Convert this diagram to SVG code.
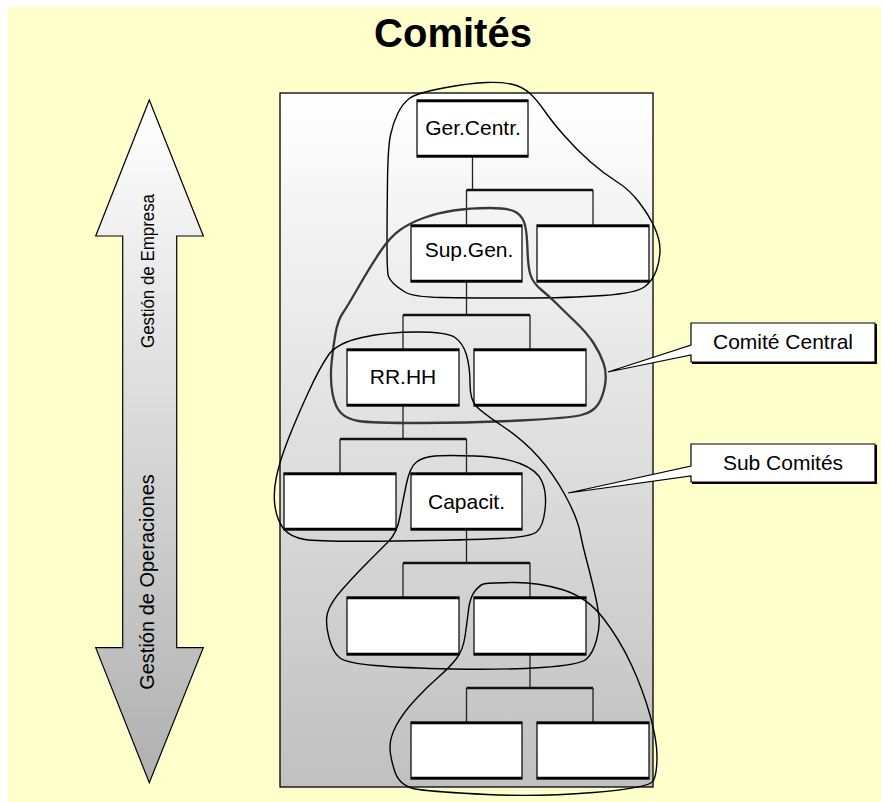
<svg xmlns="http://www.w3.org/2000/svg" width="881" height="802" viewBox="0 0 881 802">
<style>
.t{font-family:"Liberation Sans",Arial,sans-serif;fill:#000}
.box{fill:#fff;stroke:#111;stroke-width:1.3}
.edge{stroke:#000;stroke-width:2.6;fill:none}
.ln{stroke:#222;stroke-width:1.3;fill:none}
.bus{stroke:#111;stroke-width:2.6;fill:none}
.loop{fill:none;stroke:#000;stroke-width:1.4}
</style>
<defs>
<linearGradient id="pg" x1="0" y1="0" x2="0" y2="1">
<stop offset="0" stop-color="#ffffff"/>
<stop offset="1" stop-color="#c0c0c0"/>
</linearGradient>
<linearGradient id="ag" x1="0" y1="0" x2="0" y2="1">
<stop offset="0" stop-color="#ffffff"/>
<stop offset="1" stop-color="#b0b0b0"/>
</linearGradient>
</defs>
<rect x="0" y="0" width="881" height="802" fill="#fff"/>
<rect x="8" y="7" width="873" height="795" fill="#ffffcc"/>
<text class="t" x="453" y="47" font-size="40" font-weight="bold" text-anchor="middle">Comités</text>

<g id="arrow">
<path d="M149.3,100 L203.3,236 L176.7,236 L176.7,647.7 L203.3,647.7 L149.3,782.7 L95.7,647.7 L122.7,647.7 L122.7,236 L95.7,236 Z" fill="url(#ag)" stroke="#000" stroke-width="1.2"/>
<text class="t" x="154" y="271" font-size="18" text-anchor="middle" textLength="154" lengthAdjust="spacingAndGlyphs" transform="rotate(-90 154 271)">Gestión de Empresa</text>
<text class="t" x="154" y="582" font-size="20" text-anchor="middle" transform="rotate(-90 154 582)">Gestión de Operaciones</text>
</g>

<rect id="panel" x="280" y="93" width="373" height="694" fill="url(#pg)" stroke="#000" stroke-width="1.3"/>

<g id="connectors">
<path class="ln" d="M472.5,157 V190 M466.5,190 V225 M593,190 V225"/>
<path class="bus" d="M466.5,190 H593"/>
<path class="ln" d="M466.5,282 V315 M403,315 V349 M530,315 V349"/>
<path class="bus" d="M403,315 H530"/>
<path class="ln" d="M403,406 V439 M340,439 V473 M466.5,439 V473"/>
<path class="bus" d="M340,439 H466.5"/>
<path class="ln" d="M466.5,530 V563 M403,563 V597 M530,563 V597"/>
<path class="bus" d="M403,563 H530"/>
<path class="ln" d="M530,655 V688 M466.5,688 V722 M593,688 V722"/>
<path class="bus" d="M466.5,688 H593"/>
</g>

<g id="n-gercentr"><rect class="box" x="417" y="100" width="111" height="57"/><path class="edge" d="M417,101 H528 M417,156 H528"/><text class="t" x="473" y="135" font-size="21" text-anchor="middle">Ger.Centr.</text></g>
<g id="n-supgen"><rect class="box" x="411" y="225" width="111" height="57"/><path class="edge" d="M411,226 H522 M411,281 H522"/><text class="t" x="469" y="257" font-size="21" text-anchor="middle">Sup.Gen.</text></g>
<g id="n-r1"><rect class="box" x="537" y="225" width="112" height="57"/><path class="edge" d="M537,226 H649 M537,281 H649"/></g>
<g id="n-rrhh"><rect class="box" x="347" y="349" width="112" height="57"/><path class="edge" d="M347,350 H459 M347,405 H459"/><text class="t" x="403" y="384" font-size="21" text-anchor="middle">RR.HH</text></g>
<g id="n-r2"><rect class="box" x="474" y="349" width="112" height="57"/><path class="edge" d="M474,350 H586 M474,405 H586"/></g>
<g id="n-l3"><rect class="box" x="284" y="473" width="112" height="57"/><path class="edge" d="M284,474 H396 M284,529 H396"/></g>
<g id="n-capacit"><rect class="box" x="411" y="473" width="111" height="57"/><path class="edge" d="M411,474 H522 M411,529 H522"/><text class="t" x="466.5" y="508.5" font-size="21" text-anchor="middle">Capacit.</text></g>
<g id="n-b4l"><rect class="box" x="347" y="597" width="112" height="58"/><path class="edge" d="M347,598 H459 M347,654 H459"/></g>
<g id="n-b4r"><rect class="box" x="474" y="597" width="112" height="58"/><path class="edge" d="M474,598 H586 M474,654 H586"/></g>
<g id="n-b5l"><rect class="box" x="411" y="722" width="111" height="57"/><path class="edge" d="M411,723 H522 M411,778 H522"/></g>
<g id="n-b5r"><rect class="box" x="537" y="722" width="112" height="57"/><path class="edge" d="M537,723 H649 M537,778 H649"/></g>

<g id="loops">
<path class="loop" d="M410,98 Q417,93 443.5,88 Q470,83 486.5,82.5 Q503,82 513,84.5 Q523,87 530,93.5 Q537,100 545,111.5 Q553,123 565,136.5 Q577,150 590,161.5 Q603,173 616.5,181.5 Q630,190 640,203.5 Q650,217 655,228.5 Q660,240 660,250 Q660,260 656.5,270 Q653,280 645,286.5 Q637,293 603.5,295.5 Q570,298 520,298 Q470,298 441.5,297.5 Q413,297 405,292 Q397,287 393.5,283.5 Q390,280 388.5,276.5 Q387,273 387,243 Q387,213 387.5,180 Q388,147 390.5,135 Q393,123 398,113 Q403,103 410,98 Z"/>
<path fill="none" stroke="#383838" stroke-width="2.3" d="M342.5,313.5 Q347,307 358.5,287 Q370,267 380,252 Q390,237 400,230 Q410,223 423.5,218 Q437,213 453.5,210.5 Q470,208 490,208 Q510,208 516.5,212.5 Q523,217 525,225 Q527,233 527.5,250 Q528,267 530.5,275 Q533,283 541.5,290 Q550,297 556.5,303.5 Q563,310 575,321.5 Q587,333 593.5,343 Q600,353 603.5,363 Q607,373 605,385 Q603,397 598,404.5 Q593,412 581.5,415 Q570,418 520,420.5 Q470,423 420,423 Q370,423 358.5,421 Q347,419 341,413 Q335,407 332.5,393.5 Q330,380 331.5,363.5 Q333,347 335.5,333.5 Q338,320 342.5,313.5 Z"/>
<path class="loop" d="M362,337.5 Q387,332 417,332 Q447,332 455,337.5 Q463,343 466.5,355 Q470,367 470,383.5 Q470,400 476.5,406.5 Q483,413 503,426.5 Q523,440 538,456.5 Q553,473 565,495 Q577,517 580,532 Q583,547 586.5,560 Q590,573 594,590 Q598,607 599,617 Q600,627 596.5,640 Q593,653 586.5,659 Q580,665 541.5,667.5 Q503,670 453,669 Q403,668 375,665.5 Q347,663 340,658 Q333,653 329,638 Q325,623 327.5,613 Q330,603 343.5,588 Q357,573 368.5,561.5 Q380,550 388.5,541.5 Q397,533 400,516.5 Q403,500 406.5,483.5 Q410,467 416.5,462 Q423,457 435,456 Q447,455 475,456 Q503,457 520,463.5 Q537,470 542,481.5 Q547,493 545,510 Q543,527 536.5,532 Q530,537 500,538.5 Q470,540 395,541 Q320,542 305,539.5 Q290,537 283.5,528.5 Q277,520 275,506.5 Q273,493 276.5,476.5 Q280,460 288.5,438.5 Q297,417 308.5,392 Q320,367 328.5,355 Q337,343 362,337.5 Z"/>
<path class="loop" d="M483.5,584 Q487,583 512,582.5 Q537,582 562,589.5 Q587,597 603.5,618.5 Q620,640 631.5,665 Q643,690 650,715 Q657,740 657,756.5 Q657,773 653.5,780.5 Q650,788 593.5,792.5 Q537,797 487,794.5 Q437,792 418.5,789.5 Q400,787 395,772 Q390,757 390,747 Q390,737 396.5,725 Q403,713 415,700 Q427,687 438.5,677 Q450,667 456.5,658.5 Q463,650 465,636.5 Q467,623 468.5,610 Q470,597 475,591 Q480,585 483.5,584 Z"/>
</g>

<g id="callout-central">
<path d="M691,323 H875 V362 H691 V355 L608,372 L691,345 Z" fill="#fff" stroke="#000" stroke-width="1.2"/>
<path d="M876,324 V363 H692" fill="none" stroke="#000" stroke-width="2"/>
<text class="t" x="783" y="349" font-size="21" text-anchor="middle">Comité Central</text>
</g>
<g id="callout-sub">
<path d="M691,444 H875 V482 H691 V476 L568,493 L691,466 Z" fill="#fff" stroke="#000" stroke-width="1.2"/>
<path d="M876,445 V483 H692" fill="none" stroke="#000" stroke-width="2"/>
<text class="t" x="783" y="470" font-size="21" text-anchor="middle">Sub Comités</text>
</g>
</svg>
